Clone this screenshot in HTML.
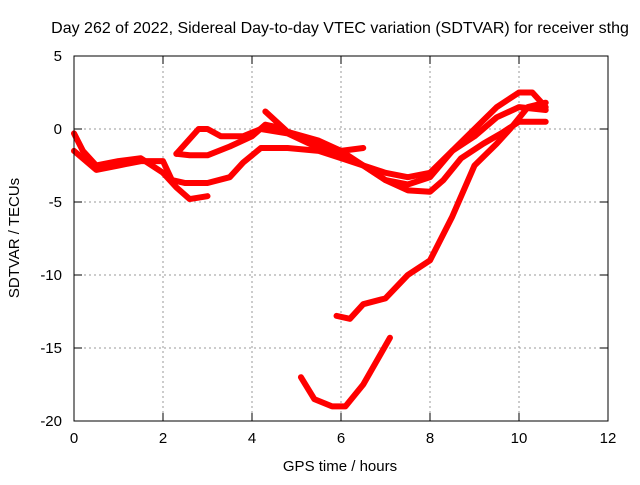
<!DOCTYPE html>
<html><head><meta charset="utf-8"><style>
body{margin:0;background:#fff;}
svg text{font-family:"Liberation Sans",sans-serif;font-size:15px;fill:#000;}
</style></head><body>
<svg id="chart" width="640" height="480" xmlns="http://www.w3.org/2000/svg">
<rect width="640" height="480" fill="#fff"/>
<text x="340" y="33" text-anchor="middle" style="font-size:16px">Day 262 of 2022, Sidereal Day-to-day VTEC variation (SDTVAR) for receiver sthg</text>
<text x="340" y="471" text-anchor="middle">GPS time / hours</text>
<text transform="translate(19,238) rotate(-90)" text-anchor="middle">SDTVAR / TECUs</text>
<g id="grid"></g><g id="series"></g>
<rect x="74" y="56" width="534" height="365" fill="none" stroke="#000"/>
<g id="ticks"></g>
</svg>
<script>
const xTicks=[0,2,4,6,8,10,12];
const yTicks=[-20,-15,-10,-5,0,5];
const trackAx=[0,0.2,0.5,1,1.5,2,2.3,2.6,3.0];
const trackAy=[-0.3,-1.5,-2.5,-2.2,-2,-3,-4,-4.8,-4.6];
const trackBx=[0,0.5,1,1.5,2,2.2,2.5,3,3.5,3.8,4.2,4.8,5.5,6,6.5,7,7.5,8,8.3,8.7,9.2,9.6,10,10.6];
const trackBy=[-1.5,-2.8,-2.5,-2.2,-2.2,-3.5,-3.7,-3.7,-3.3,-2.3,-1.3,-1.3,-1.5,-2,-2.5,-3.5,-4.2,-4.3,-3.5,-2,-1,-0.3,0.5,0.5];
const trackCx=[2.3,2.8,3.0,3.3,3.8,4.2,4.8,5.5,6,6.5,7,7.5,8,8.5,9,9.5,10,10.6];
const trackCy=[-1.7,0,0,-0.5,-0.5,0,-0.3,-1.3,-1.6,-2.5,-3,-3.3,-3,-1.5,-0.5,0.8,1.5,1.3];
const trackDx=[2.3,2.6,3,3.5,4,4.3,4.6,5,5.5,6,6.5];
const trackDy=[-1.7,-1.8,-1.8,-1.2,-0.5,0.3,0.1,-0.5,-1,-1.5,-1.3];
const trackEx=[4.3,4.8,5.5,6,6.5,7,7.5,8,8.5,9,9.5,10,10.3,10.6];
const trackEy=[1.2,-0.2,-0.8,-1.5,-2.5,-3.5,-3.8,-3.3,-1.5,0,1.5,2.5,2.5,1.5];
const trackFx=[5.9,6.2,6.5,7,7.5,8,8.5,9,9.5,9.8,10.2,10.6];
const trackFy=[-12.8,-13,-12,-11.6,-10,-9,-6,-2.5,-1,0,1.5,1.8];
const trackGx=[5.1,5.4,5.8,6.1,6.5,7.1];
const trackGy=[-17,-18.5,-19,-19,-17.5,-14.3];
const X=v=>74+v*534/12, Y=v=>421-(v+20)*365/25;
const NS="http://www.w3.org/2000/svg";
const grid=document.getElementById('grid'),ticks=document.getElementById('ticks'),ser=document.getElementById('series');
function mk(t,a,p){const e=document.createElementNS(NS,t);for(const k in a)e.setAttribute(k,a[k]);p.appendChild(e);return e;}
xTicks.forEach(v=>{const x=X(v);
 if(v>0&&v<12){const g=mk('line',{x1:x,x2:x,y1:56,y2:421,stroke:'#999','stroke-dasharray':'2,3'},grid);
 
 }
 mk('line',{x1:x,x2:x,y1:421,y2:413,stroke:'#000'},ticks);mk('line',{x1:x,x2:x,y1:56,y2:64,stroke:'#000'},ticks);
 const t=mk('text',{x:x,y:443,'text-anchor':'middle'},ticks);t.textContent=v;
 
 });
yTicks.forEach(v=>{const y=Y(v);
 if(v>-20&&v<5){const g=mk('line',{x1:74,x2:608,y1:y,y2:y,stroke:'#999','stroke-dasharray':'2,3'},grid);
 
 }
 mk('line',{x1:74,x2:82,y1:y,y2:y,stroke:'#000'},ticks);mk('line',{x1:608,x2:600,y1:y,y2:y,stroke:'#000'},ticks);
 const t=mk('text',{x:62,y:y+5,'text-anchor':'end'},ticks);t.textContent=v;
 
 });
[[trackAx,trackAy],[trackBx,trackBy],[trackCx,trackCy],[trackDx,trackDy],[trackEx,trackEy],[trackFx,trackFy],[trackGx,trackGy]].forEach(([xs,ys])=>{
 const pts=xs.map((x,i)=>X(x)+','+Y(ys[i])).join(' ');
 const p=mk('polyline',{points:pts,fill:'none',stroke:'#f00','stroke-width':6,'stroke-linejoin':'round','stroke-linecap':'round'},ser);
 
 });
</script>
</body></html>
